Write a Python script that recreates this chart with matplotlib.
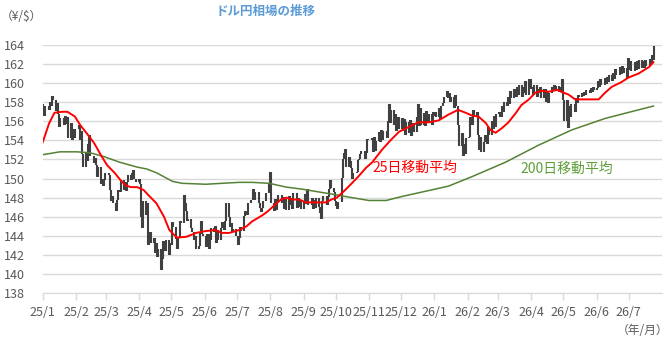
import matplotlib
matplotlib.use('Agg')
import matplotlib.pyplot as plt
import matplotlib.dates as mdates
import numpy as np
import pandas as pd

plt.rcParams['font.family'] = ['Noto Sans CJK JP', 'DejaVu Sans']

# ---- daily closes (USD/JPY), one list per month ----
first_open = 157.8
c_2501 = [157.4, 156.6, 157.6, 157.2, 158.0, 157.6, 158.7, 158.2, 157.1, 157.9, 156.8, 155.4, 156.3, 155.6, 156.6, 155.7, 156.4, 154.2, 155.8, 154.0, 155.2, 154.3, 155.2]
c_2502 = [155.6, 154.0, 155.0, 152.6, 151.2, 152.8, 151.8, 153.6, 154.6, 152.4, 151.6, 152.2, 151.4, 150.2, 151.2, 149.4, 150.0, 149.2, 149.8, 150.6]
c_2503 = [150.4, 148.8, 147.6, 148.2, 147.4, 146.6, 147.8, 148.8, 148.6, 149.8, 148.8, 149.6, 148.7, 149.6, 150.4, 149.8, 150.6, 150.9, 150.0, 149.6, 150.0]
c_2504 = [149.4, 146.0, 144.8, 147.6, 146.2, 147.4, 143.0, 144.4, 143.2, 143.8, 142.2, 143.2, 141.8, 142.6, 140.4, 141.6, 143.4, 142.4, 143.6, 142.0, 143.2, 143.0]
c_2505 = [145.4, 144.9, 143.7, 142.6, 143.8, 145.6, 145.3, 148.3, 147.4, 146.6, 145.6, 145.8, 144.8, 144.4, 143.6, 144.0, 142.6, 142.9, 144.4, 145.6, 144.2, 144.0]
c_2506 = [142.8, 144.2, 142.6, 143.6, 144.8, 144.4, 145.0, 143.2, 144.6, 143.6, 144.8, 145.4, 144.6, 145.6, 147.4, 146.0, 144.9, 145.3, 144.4, 144.7, 144.0]
c_2507 = [143.0, 143.8, 144.9, 144.5, 146.1, 146.6, 146.3, 146.2, 147.4, 147.7, 148.9, 147.8, 148.6, 148.6, 147.4, 146.9, 146.5, 146.9, 147.6, 148.5, 148.5, 149.5, 150.7]
c_2508 = [147.4, 146.6, 147.9, 146.7, 147.6, 148.3, 147.4, 148.1, 146.8, 147.9, 146.7, 148.2, 147.2, 148.0, 146.8, 148.5, 146.9, 148.0, 147.0, 147.8, 146.8]
c_2509 = [147.6, 148.4, 147.3, 148.9, 147.2, 148.0, 146.8, 147.8, 146.9, 148.0, 147.0, 146.4, 145.8, 147.6, 148.2, 147.2, 148.1, 148.9, 149.8, 149.0, 148.6, 147.6]
c_2510 = [147.1, 146.8, 147.5, 150.1, 152.0, 152.7, 153.1, 151.2, 152.3, 151.8, 151.1, 150.0, 150.6, 150.7, 151.9, 152.0, 152.6, 152.9, 152.9, 152.1, 152.7, 154.1, 154.0]
c_2511 = [154.3, 152.8, 154.4, 152.9, 153.9, 154.9, 153.8, 155.1, 154.0, 155.0, 154.2, 156.0, 157.8, 155.8, 157.2, 155.6, 156.8, 155.0, 156.4, 155.2]
c_2512 = [156.3, 155.0, 156.2, 154.6, 155.9, 154.8, 156.1, 154.5, 155.8, 154.9, 156.4, 157.8, 155.5, 157.4, 155.6, 156.9, 155.5, 157.1, 155.8, 156.8, 155.6, 157.0, 156.6]
c_2601 = [157.0, 156.4, 157.4, 156.2, 157.6, 157.9, 158.6, 159.2, 158.4, 159.0, 158.0, 158.6, 157.4, 158.8, 157.6, 155.6, 153.4, 154.8, 152.4, 153.6, 152.6, 154.2]
c_2602 = [154.4, 156.4, 155.6, 157.2, 156.4, 157.0, 154.6, 153.0, 154.4, 152.8, 153.8, 154.6, 153.6, 155.4, 154.6, 156.0, 155.2, 156.6, 155.4, 156.8]
c_2603 = [157.0, 156.4, 157.6, 157.0, 158.0, 157.6, 158.6, 157.8, 159.2, 158.4, 159.4, 158.6, 159.6, 158.8, 159.8, 158.6, 159.6, 159.0, 160.2, 158.8, 160.4, 159.4]
c_2604 = [159.6, 158.8, 159.8, 158.6, 159.4, 159.0, 159.6, 158.4, 159.4, 158.0, 159.2, 157.9, 159.0, 159.6, 159.2, 159.8, 159.3, 159.7, 159.1, 159.6, 160.4, 158.2]
c_2605 = [156.0, 158.2, 155.3, 157.6, 156.4, 157.8, 157.0, 158.4, 157.9, 158.8, 158.6, 159.0, 158.7, 159.1, 158.8, 159.3, 159.0, 159.5, 159.1, 159.6, 159.3]
c_2606 = [159.5, 160.2, 159.6, 160.4, 159.8, 160.5, 159.9, 160.6, 160.1, 160.9, 160.2, 161.1, 160.4, 161.5, 160.9, 161.7, 161.0, 161.8, 161.1, 161.6, 160.5, 162.6]
c_2607 = [161.4, 162.3, 161.3, 162.2, 161.4, 162.3, 161.5, 162.4, 161.6, 162.3, 161.6, 162.4, 161.8, 162.5, 162.0, 163.0, 162.4, 163.9]
last_day = '2026-07-24'

month_data = [('2025-01', c_2501), ('2025-02', c_2502), ('2025-03', c_2503), ('2025-04', c_2504),
              ('2025-05', c_2505), ('2025-06', c_2506), ('2025-07', c_2507), ('2025-08', c_2508),
              ('2025-09', c_2509), ('2025-10', c_2510), ('2025-11', c_2511), ('2025-12', c_2512),
              ('2026-01', c_2601), ('2026-02', c_2602), ('2026-03', c_2603), ('2026-04', c_2604),
              ('2026-05', c_2605), ('2026-06', c_2606), ('2026-07', c_2607)]

# ---- 25-day moving average ----
ma25_dates = ['2025-01-01', '2025-01-04', '2025-01-07', '2025-01-12', '2025-01-19', '2025-01-24', '2025-01-31',
              '2025-02-05', '2025-02-12', '2025-02-18', '2025-02-24', '2025-03-02', '2025-03-09', '2025-03-14',
              '2025-03-19', '2025-03-24', '2025-03-30', '2025-04-05', '2025-04-10', '2025-04-17', '2025-04-24',
              '2025-04-29', '2025-05-06', '2025-05-15', '2025-05-24', '2025-06-02', '2025-06-11', '2025-06-17',
              '2025-06-24', '2025-07-03', '2025-07-10', '2025-07-15', '2025-07-24', '2025-07-29', '2025-08-05',
              '2025-08-11', '2025-08-16', '2025-08-21', '2025-08-28', '2025-09-03', '2025-09-12', '2025-09-22',
              '2025-09-27', '2025-10-02', '2025-10-08', '2025-10-16', '2025-10-22', '2025-10-29', '2025-11-04',
              '2025-11-13', '2025-11-21', '2025-11-29', '2025-12-08', '2025-12-17', '2025-12-27', '2026-01-05',
              '2026-01-14', '2026-01-23', '2026-01-30', '2026-02-05', '2026-02-11', '2026-02-18', '2026-02-22',
              '2026-02-27', '2026-03-05', '2026-03-11', '2026-03-18', '2026-03-23', '2026-03-30', '2026-04-05',
              '2026-04-11', '2026-04-17', '2026-04-26', '2026-04-29', '2026-05-06', '2026-05-12', '2026-06-03',
              '2026-06-09', '2026-06-15', '2026-06-24', '2026-07-01', '2026-07-10', '2026-07-20', '2026-07-24']
ma25_vals = [153.8, 154.8, 155.8, 156.9, 157.0, 157.0, 156.5,
             155.6, 154.6, 153.7, 152.5, 151.4, 150.6, 149.9,
             149.3, 149.1, 149.1, 148.8, 148.2, 147.4, 146.0,
             144.6, 143.8, 143.9, 144.3, 144.5, 144.6, 144.3,
             144.3, 144.6, 145.0, 145.5, 146.1, 146.5, 147.2,
             147.8, 148.0, 147.8, 147.8, 147.5, 147.5, 147.5,
             147.8, 148.0, 148.6, 149.5, 150.2, 151.1, 151.7,
             153.0, 154.0, 154.9, 155.4, 155.9, 155.9, 156.1,
             156.7, 157.2, 156.9, 156.6, 156.5, 155.8, 155.1,
             154.8, 155.3, 155.9, 156.9, 157.7, 158.3, 159.0,
             159.2, 159.1, 159.3, 159.1, 158.8, 158.3, 158.3,
             159.0, 159.6, 160.1, 160.6, 161.0, 161.7, 162.2]

# ---- 200-day moving average ----
ma200_dates = ['2025-01-01', '2025-01-17', '2025-02-02', '2025-02-14', '2025-02-27', '2025-03-14', '2025-03-30',
               '2025-04-08', '2025-04-17', '2025-05-02', '2025-05-11', '2025-06-02', '2025-06-17', '2025-07-03',
               '2025-07-15', '2025-07-31', '2025-08-16', '2025-08-30', '2025-09-15', '2025-10-01', '2025-10-16',
               '2025-11-01', '2025-11-17', '2025-12-01', '2025-12-17', '2026-01-02', '2026-01-14', '2026-02-05',
               '2026-03-08', '2026-04-08', '2026-05-09', '2026-06-09', '2026-07-10', '2026-07-24']
ma200_vals = [152.5, 152.8, 152.8, 152.7, 152.3, 151.7, 151.2,
              151.0, 150.6, 149.7, 149.5, 149.4, 149.5, 149.6,
              149.6, 149.5, 149.1, 148.9, 148.6, 148.3, 148.0,
              147.7, 147.7, 148.1, 148.5, 148.9, 149.2, 150.2,
              151.7, 153.5, 155.1, 156.3, 157.2, 157.6]

tick_dates = pd.date_range('2025-01-01', '2026-07-01', freq='MS')
tick_labels = ['25/1', '25/2', '25/3', '25/4', '25/5', '25/6', '25/7', '25/8', '25/9', '25/10',
               '25/11', '25/12', '26/1', '26/2', '26/3', '26/4', '26/5', '26/6', '26/7']
y_ticks = list(range(138, 165, 2))

# ---- build date positions (weekdays of each month) ----
all_dates = []
all_closes = []
for i, (m, vals) in enumerate(month_data):
    start = pd.Timestamp(m + '-01')
    end = pd.Timestamp(last_day) if i == len(month_data) - 1 else start + pd.offsets.MonthEnd(0)
    bd = pd.bdate_range(start, end)
    if len(bd) == len(vals):
        nums = mdates.date2num(bd) + 0.5
    else:
        a, b = mdates.date2num(start), mdates.date2num(end) + 1
        nums = a + (np.arange(len(vals)) + 0.5) * (b - a) / len(vals)
    all_dates.extend(nums)
    all_closes.extend(vals)
all_dates = np.array(all_dates)
closes = np.array(all_closes)
opens = np.concatenate([[first_open], closes[:-1]])
lo = np.minimum(opens, closes)
hi = np.maximum(opens, closes)

W, H = 670, 344
fig = plt.figure(figsize=(W / 100, H / 100), dpi=100)
ax = fig.add_axes([42.7 / W, 1 - 293 / H, (662 - 42.7) / W, (293 - 45) / H])

grid_c = '#D9D9D9'
text_c = '#595959'
for v in y_ticks:
    ax.axhline(v, color=grid_c, lw=1.0, zorder=0)

ax.vlines(all_dates, lo, hi, color='#404040', lw=1.5, zorder=2)
ax.plot(mdates.date2num(pd.to_datetime(ma200_dates)), ma200_vals, color='#548235', lw=1.1, zorder=3)
ax.plot(mdates.date2num(pd.to_datetime(ma25_dates)), ma25_vals, color='#FF0000', lw=1.4, zorder=4)

ax.set_xlim(mdates.date2num(pd.Timestamp('2025-01-01')), mdates.date2num(pd.Timestamp('2026-08-01')))
ax.set_ylim(138, 164)
ax.set_yticks(y_ticks)
ax.set_yticklabels([str(v) for v in y_ticks])
ax.set_xticks(mdates.date2num(tick_dates))
ax.set_xticklabels(tick_labels)
for s in ['top', 'right', 'left']:
    ax.spines[s].set_visible(False)
ax.spines['bottom'].set_color(grid_c)
ax.tick_params(axis='y', length=0, pad=13, labelsize=9, labelcolor=text_c)
ax.tick_params(axis='x', length=5, width=1, color=grid_c, pad=4, labelsize=9, labelcolor=text_c)

ax.text(mdates.date2num(pd.Timestamp('2025-11-04')), 151.1, '25日移動平均', color='#FF0000',
        fontsize=10, ha='left', va='center', zorder=5)
ax.text(mdates.date2num(pd.Timestamp('2026-03-22')), 151.0, '200日移動平均', color='#5E9E3A',
        fontsize=10, ha='left', va='center', zorder=5)

fig.text(266 / W, 1 - 11 / H, 'ドル円相場の推移', ha='center', va='center', color='#5B9BD5',
         fontsize=9, fontweight='bold')
fig.text(1 / W, 1 - 17 / H, '（¥/$）', ha='left', va='center', color=text_c, fontsize=8.5)
fig.text(668 / W, 1 - 331 / H, '（年/月）', ha='right', va='center', color=text_c, fontsize=8.5)

fig.savefig('out.png', dpi=100)
